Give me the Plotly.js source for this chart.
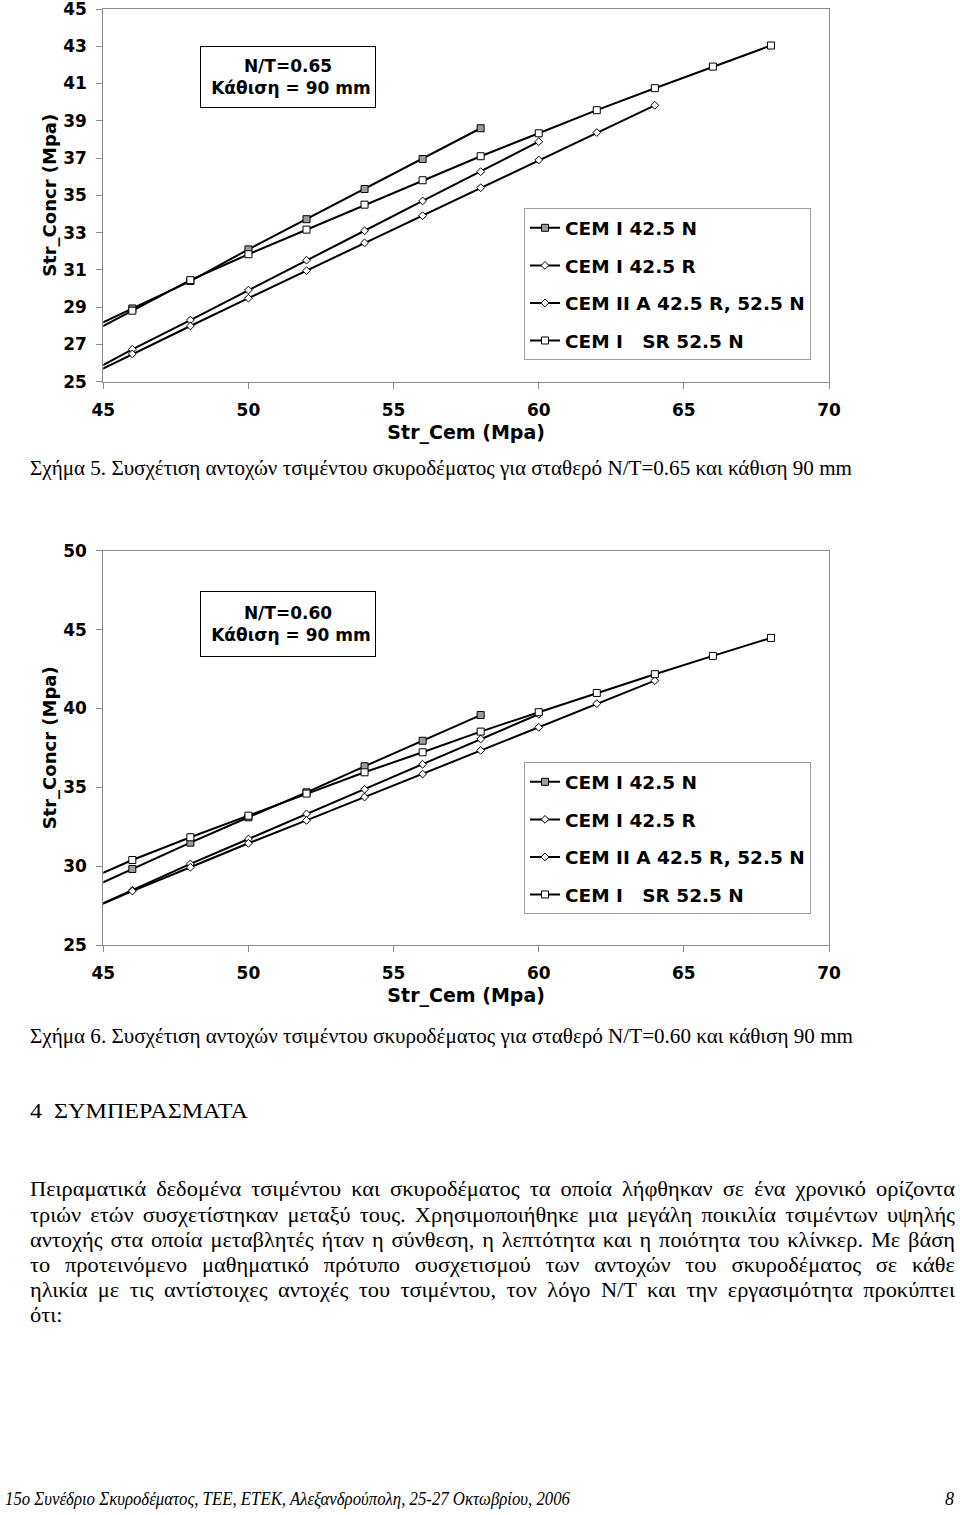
<!DOCTYPE html>
<html><head><meta charset="utf-8">
<script src="https://cdn.plot.ly/plotly-3.0.1.min.js"></script>
<style>
html,body{margin:0;padding:0;background:#fff;}
#page{position:relative;width:960px;height:1515px;overflow:hidden;background:#fff;}
#chart{position:absolute;left:0;top:0;width:960px;height:1515px;}
.t{position:absolute;white-space:nowrap;font-family:'Liberation Serif','Times New Roman',serif;color:#000;line-height:24px;height:24px;transform-origin:0 50%;}
</style></head><body>
<div id="page"><div id="chart"></div></div>
<script>
// ---------------- data ----------------
const seriesNames = ['CEM I 42.5 N', 'CEM I 42.5 R', 'CEM II A 42.5 R, 52.5 N', 'CEM I\u00a0\u00a0\u00a0SR 52.5 N'];

// cement strength (x) for each series
const strCem_42_5N = [44, 46, 48, 50, 52, 54, 56, 58];
const strCem_42_5R = [44, 46, 48, 50, 52, 54, 56, 58, 60];
const strCem_IIA   = [44, 46, 48, 50, 52, 54, 56, 58, 60, 62, 64];
const strCem_SR    = [44, 46, 48, 50, 52, 54, 56, 58, 60, 62, 64, 66, 68];

// Figure 5: N/T = 0.65
const concr065_42_5N = [27.45, 28.93, 30.40, 32.10, 33.72, 35.34, 36.95, 38.60];
const concr065_42_5R = [25.06, 26.74, 28.31, 29.92, 31.52, 33.10, 34.70, 36.27, 37.88];
const concr065_IIA   = [24.95, 26.49, 27.99, 29.48, 30.96, 32.45, 33.91, 35.41, 36.90, 38.37, 39.83];
const concr065_SR    = [27.17, 28.81, 30.45, 31.84, 33.16, 34.50, 35.81, 37.10, 38.33, 39.57, 40.75, 41.91, 43.04];

// Figure 6: N/T = 0.60
const concr060_42_5N = [28.14, 29.82, 31.49, 33.10, 34.68, 36.33, 37.95, 39.58];
const concr060_42_5R = [26.81, 28.47, 30.14, 31.72, 33.31, 34.87, 36.46, 38.06, 39.63];
const concr060_IIA   = [26.85, 28.42, 29.93, 31.45, 32.90, 34.38, 35.84, 37.34, 38.80, 40.30, 41.76];
const concr060_SR    = [28.77, 30.39, 31.83, 33.20, 34.60, 35.95, 37.22, 38.53, 39.76, 40.98, 42.17, 43.33, 44.47];

const xTitle = 'Str_Cem (Mpa)';
const yTitle = 'Str_Concr (Mpa)';
const boxText1 = 'N/T=0.65<br>\u00a0Κάθιση = 90 mm';
const boxText2 = 'N/T=0.60<br>\u00a0Κάθιση = 90 mm';

const caption1 = 'Σχήμα 5. Συσχέτιση αντοχών τσιμέντου σκυροδέματος για σταθερό N/T=0.65 και κάθιση 90 mm';
const caption2 = 'Σχήμα 6. Συσχέτιση αντοχών τσιμέντου σκυροδέματος για σταθερό N/T=0.60 και κάθιση 90 mm';
const heading = '4\u00a0\u00a0ΣΥΜΠΕΡΑΣΜΑΤΑ';
const paragraphLines = [
  'Πειραματικά δεδομένα τσιμέντου και σκυροδέματος τα οποία λήφθηκαν σε ένα χρονικό ορίζοντα',
  'τριών ετών συσχετίστηκαν μεταξύ τους. Χρησιμοποιήθηκε μια μεγάλη ποικιλία τσιμέντων υψηλής',
  'αντοχής στα οποία μεταβλητές ήταν η σύνθεση, η λεπτότητα και η ποιότητα του κλίνκερ. Με βάση',
  'το προτεινόμενο μαθηματικό πρότυπο συσχετισμού των αντοχών του σκυροδέματος σε κάθε',
  'ηλικία με τις αντίστοιχες αντοχές του τσιμέντου, τον λόγο N/T και την εργασιμότητα προκύπτει',
  'ότι:'
];
const footerText = '15ο Συνέδριο Σκυροδέματος, ΤΕΕ, ΕΤΕΚ, Αλεξανδρούπολη, 25-27 Οκτωβρίου, 2006';
const pageNumber = '8';

// ---------------- chart ----------------
const W = 960, H = 1515;
const py = p => 1 - p / H;
const BOLD = {family: 'DejaVu Sans, Arial, sans-serif', weight: 'bold', color: '#000'};

const mk = {
  n:  {symbol: 'square',  size: 7, color: '#9c9c9c', line: {color: '#000', width: 1}},
  r:  {symbol: 'diamond', size: 6, color: '#ffffff', line: {color: '#000', width: 1}},
  ii: {symbol: 'diamond', size: 6, color: '#ffffff', line: {color: '#000', width: 1}},
  sr: {symbol: 'square',  size: 7, color: '#ffffff', line: {color: '#000', width: 1}}
};
function tr(x, y, name, marker, xa, ya, leg, grp) {
  return {x: x, y: y, name: name, type: 'scatter', mode: 'lines+markers',
    line: {color: '#000', width: 2}, marker: marker, xaxis: xa, yaxis: ya,
    legend: leg, legendgroup: grp, cliponaxis: true};
}
const traces = [
  tr(strCem_42_5N, concr065_42_5N, seriesNames[0], mk.n,  'x', 'y', 'legend', 'a1'),
  tr(strCem_42_5R, concr065_42_5R, seriesNames[1], mk.r,  'x', 'y', 'legend', 'b1'),
  tr(strCem_IIA,   concr065_IIA,   seriesNames[2], mk.ii, 'x', 'y', 'legend', 'c1'),
  tr(strCem_SR,    concr065_SR,    seriesNames[3], mk.sr, 'x', 'y', 'legend', 'd1'),
  tr(strCem_42_5N, concr060_42_5N, seriesNames[0], mk.n,  'x2', 'y2', 'legend2', 'a2'),
  tr(strCem_42_5R, concr060_42_5R, seriesNames[1], mk.r,  'x2', 'y2', 'legend2', 'b2'),
  tr(strCem_IIA,   concr060_IIA,   seriesNames[2], mk.ii, 'x2', 'y2', 'legend2', 'c2'),
  tr(strCem_SR,    concr060_SR,    seriesNames[3], mk.sr, 'x2', 'y2', 'legend2', 'd2')
];

const axisBase = {
  showline: true, linecolor: '#8a8a8a', linewidth: 1, mirror: true,
  ticks: 'outside', ticklen: 6, tickwidth: 1, tickcolor: '#8a8a8a',
  showgrid: false, zeroline: false, automargin: false, ticklabeloverflow: 'allow',
  tickfont: Object.assign({size: 17}, BOLD)
};
const xDomain = [103.3 / W, 829 / W];
function xax(anchor) {
  return Object.assign({}, axisBase, {domain: xDomain, anchor: anchor, range: [45, 70],
    tick0: 45, dtick: 5, ticklabelstandoff: 7,
    title: {text: xTitle, font: Object.assign({size: 19}, BOLD), standoff: 6}});
}
function yax(anchor, dom, rng, dt) {
  return Object.assign({}, axisBase, {domain: dom, anchor: anchor, range: rng,
    tick0: 25, dtick: dt, ticklabelstandoff: 6,
    title: {text: yTitle, font: Object.assign({size: 18}, BOLD), standoff: 1}});
}
function legendCfg(topPx) {
  return {x: 524 / W, y: py(topPx), xanchor: 'left', yanchor: 'top',
    bgcolor: '#fff', bordercolor: '#a0a0a0', borderwidth: 1,
    font: Object.assign({size: 18.5}, BOLD), traceorder: 'grouped', tracegroupgap: 10.5,
    itemwidth: 30, itemclick: false};
}
function box(text, cx, cy, h) {
  return {xref: 'paper', yref: 'paper', x: cx / W, y: py(cy), xanchor: 'center', yanchor: 'middle',
    text: text, showarrow: false, bgcolor: '#fff', bordercolor: '#000', borderwidth: 1, borderpad: 0,
    width: 174, height: h, font: Object.assign({size: 17}, BOLD)};
}

const layout = {
  width: W, height: H, margin: {l: 0, r: 0, t: 0, b: 0},
  paper_bgcolor: '#fff', plot_bgcolor: '#fff', showlegend: true,
  font: {family: 'DejaVu Sans, Arial, sans-serif', color: '#000'},
  xaxis: xax('y'),
  yaxis: yax('x', [py(381.7), py(9)], [25, 45], 2),
  xaxis2: xax('y2'),
  yaxis2: yax('x2', [py(945), py(550.7)], [25, 50], 5),
  legend: legendCfg(208.3),
  legend2: legendCfg(762.3),
  annotations: [box(boxText1, 288, 77.2, 60), box(boxText2, 288, 623.7, 64)]
};

Plotly.newPlot('chart', traces, layout, {staticPlot: true, displayModeBar: false});

// ---------------- page text ----------------
const page = document.getElementById('page');
const STRETCH = 1.12;
function addText(txt, opt) {
  const d = document.createElement('div');
  d.className = 't';
  d.textContent = txt;
  d.style.fontSize = opt.size + 'px';
  if (opt.italic) d.style.fontStyle = 'italic';
  d.style.left = opt.left + 'px';
  d.style.top = (opt.cy - 12) + 'px';
  page.appendChild(d);
  const w = d.getBoundingClientRect().width;
  const target = opt.right - opt.left;
  if (opt.mode === 'scale') {
    d.style.transform = 'scaleX(' + (target / w) + ')';
  } else if (opt.mode === 'justify') {
    const spaces = (txt.match(/ /g) || []).length;
    const s = Math.min(STRETCH, target / w);
    d.style.transform = 'scaleX(' + s + ')';
    if (w * s < target && spaces > 0) {
      d.style.wordSpacing = ((target - w * s) / s / spaces) + 'px';
    }
  } else if (opt.mode === 'stretch') {
    d.style.transform = 'scaleX(' + STRETCH + ')';
  }
}
addText(caption1, {left: 30, right: 852, cy: 468, size: 20, mode: 'scale'});
addText(caption2, {left: 30, right: 853, cy: 1036, size: 20, mode: 'scale'});
addText(heading, {left: 30, right: 248, cy: 1111, size: 20, mode: 'scale'});
const paraY = [1189, 1214.5, 1240, 1265, 1290, 1315];
paragraphLines.forEach((ln, i) => {
  const last = i === paragraphLines.length - 1;
  addText(ln, {left: 30, right: 955, cy: paraY[i], size: 20, mode: last ? 'stretch' : 'justify'});
});
addText(footerText, {left: 5, right: 570, cy: 1499, size: 18, mode: 'scale', italic: true});
addText(pageNumber, {left: 945, right: 955, cy: 1499, size: 18, mode: 'none', italic: true});
</script>
</body></html>
